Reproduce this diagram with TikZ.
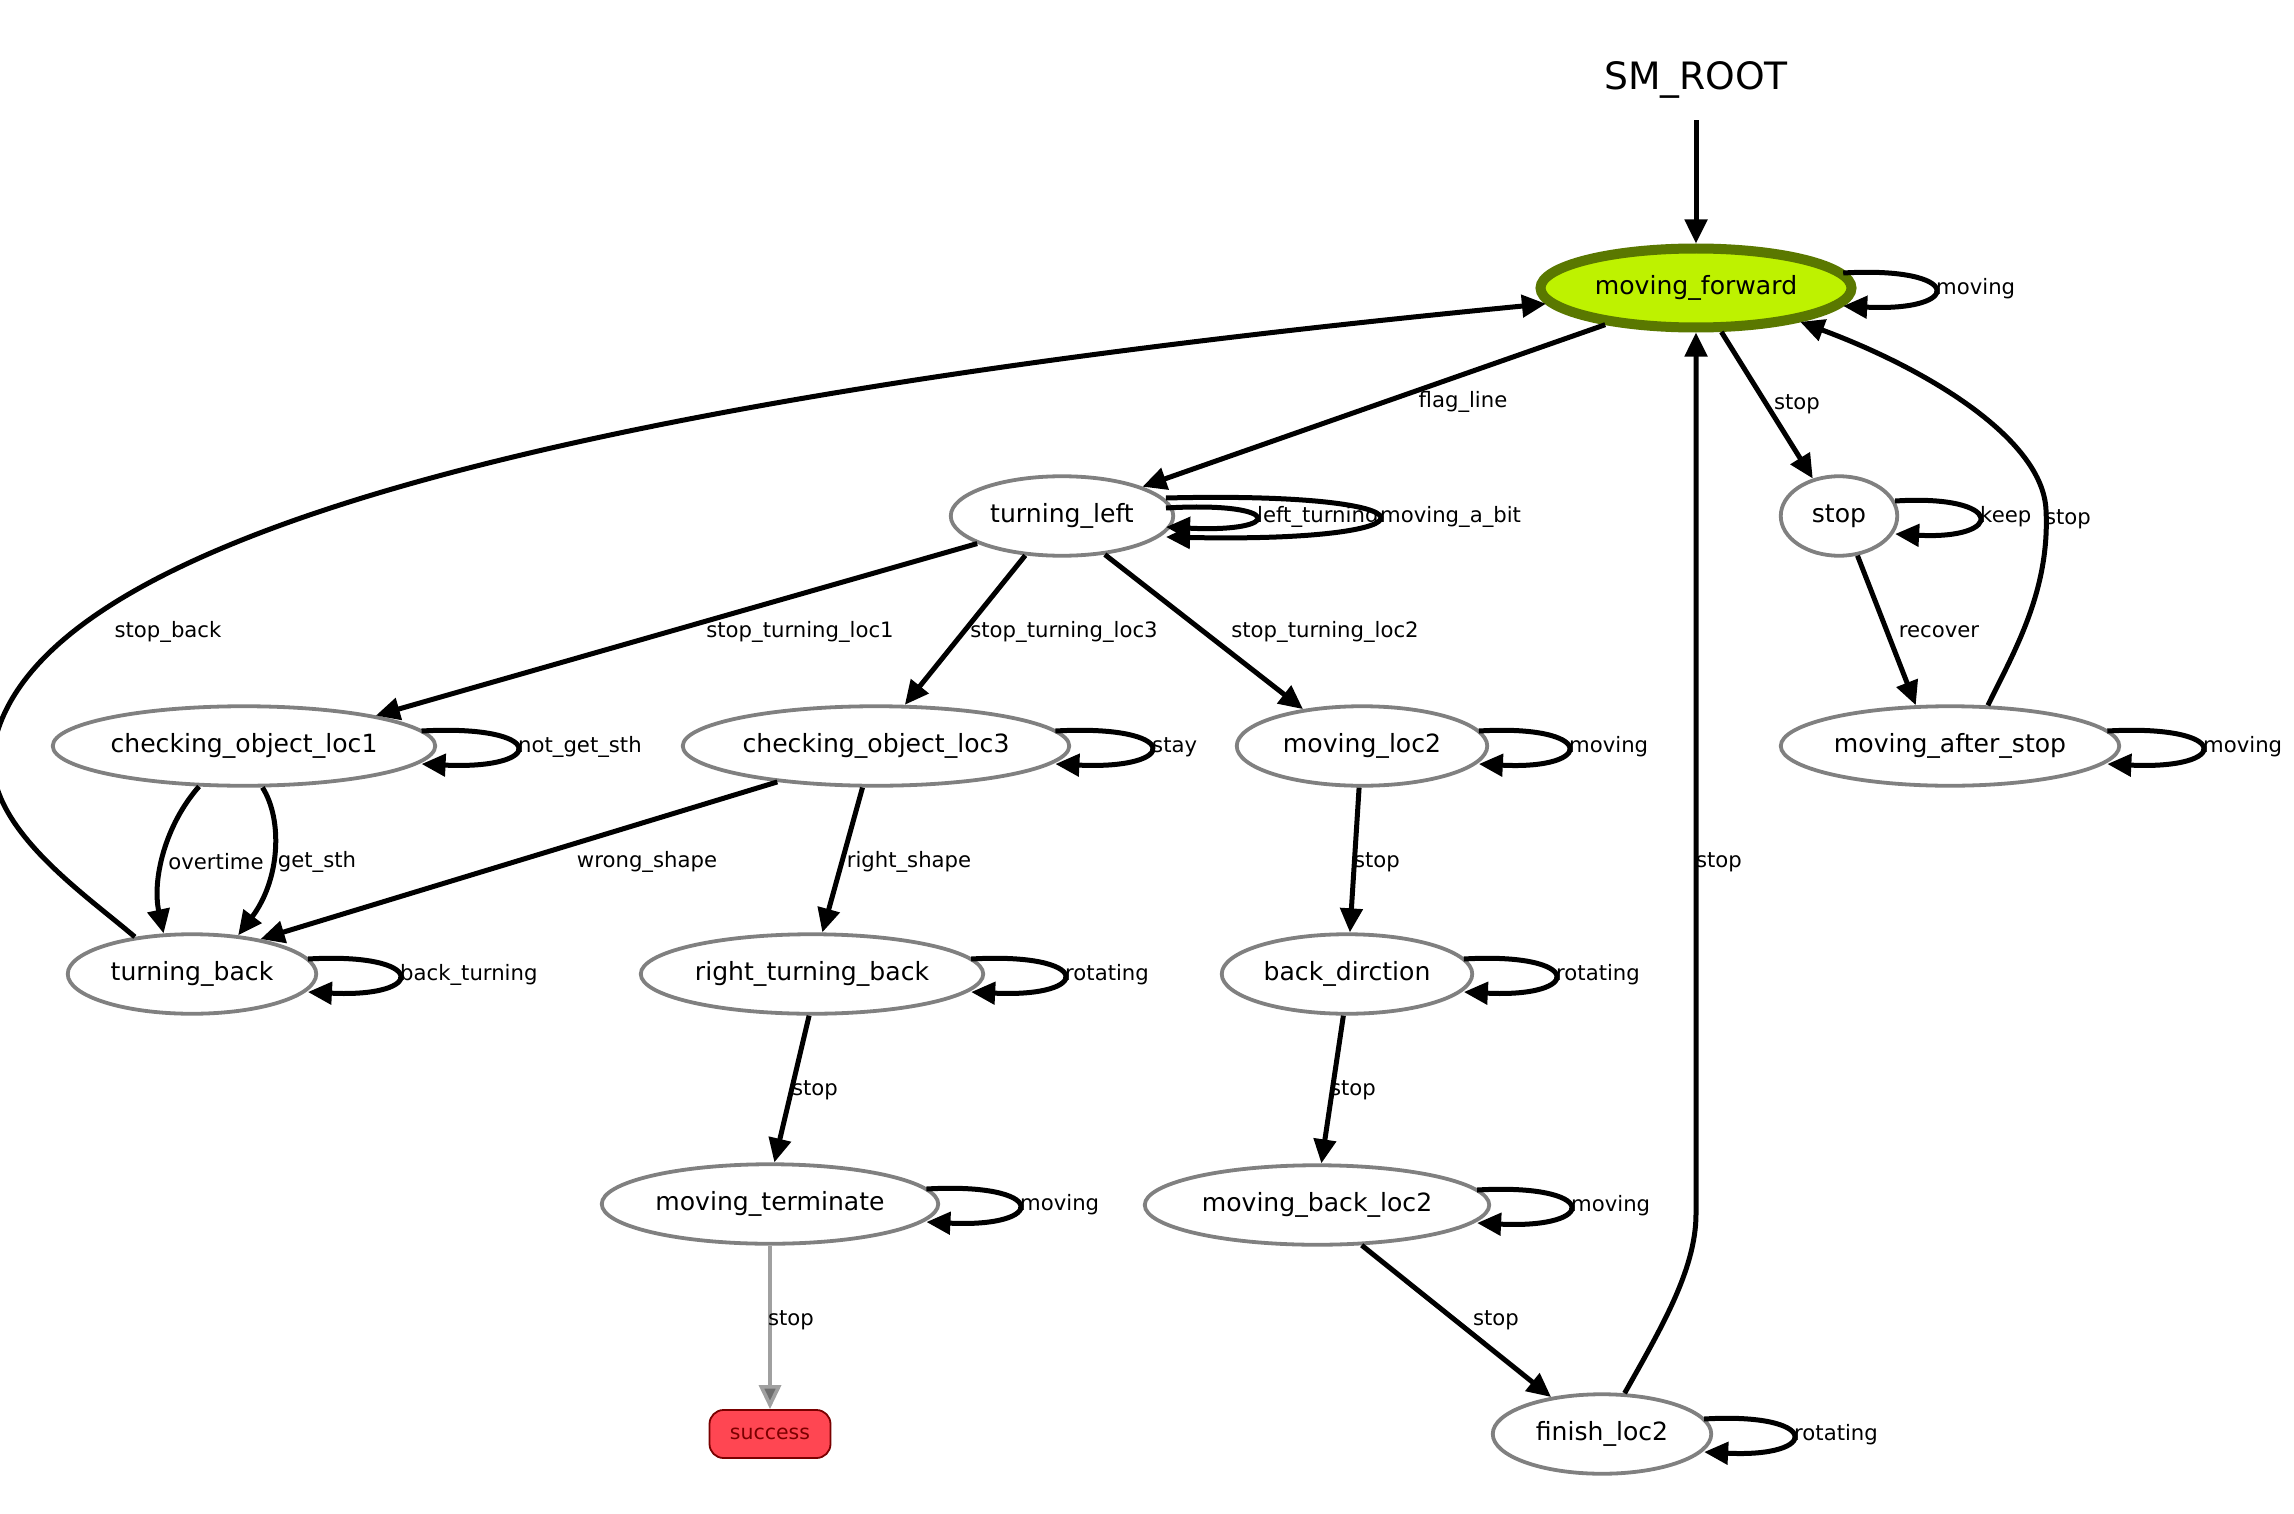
\documentclass[tikz,border=0pt]{standalone}
\usepackage{fontspec}
\setmainfont{DejaVu Sans}
\usetikzlibrary{arrows.meta,shapes.geometric,calc}
\definecolor{mfFill}{HTML}{BEF200}
\definecolor{mfDraw}{HTML}{5A7800}
\definecolor{stGray}{HTML}{808080}
\definecolor{sucFill}{HTML}{FF4652}
\definecolor{sucDraw}{HTML}{7A0000}
\definecolor{grayEdge}{HTML}{A0A0A0}
\definecolor{grayTip}{HTML}{6E6E6E}
\newcommand\nodefont{\fontsize{25.1}{29}\selectfont}
\newcommand\labfont{\fontsize{21.2}{25}\selectfont}
\newcommand\rootfont{\fontsize{37.7}{42}\selectfont}
\tikzset{
 state/.style={ellipse, draw=stGray, line width=3.8pt, fill=white, inner sep=0pt, minimum height=79.5pt, font=\nodefont},
 conn/.style={line width=5pt, -{Triangle[length=24pt,width=22pt]}},
 elab/.style={font=\labfont, inner sep=0pt},
}
% #1 node, #2 outer rx, #3 extent beyond edge, #4 vertical offset, #5 label
\newcommand\sloop[5]{%
 \draw[conn] ($(#1.center)+({0.92*#2},{-#4})$)
   .. controls ($(#1.center)+({(#2+#3-0.23*#2)/0.75},{-#4-7})$)
   and ($(#1.center)+({(#2+#3-0.23*#2)/0.75},{#4+9})$)
   .. ($(#1.center)+({0.92*#2},{#4+3})$);
 \node[elab,anchor=west] at ($(#1.center)+({#2+#3+2},1)$) {#5};}
\begin{document}
\begin{tikzpicture}[x=1pt,y=-1pt]
\useasboundingbox (0,0) rectangle (2294,1514);
% nodes
\node[font=\rootfont, inner sep=0pt, minimum height=80pt] (root) at (1696,80) {SM\_ROOT};
\node[state, draw=mfDraw, fill=mfFill, line width=10pt, minimum width=311pt, minimum height=79pt] (mf) at (1696,288) {moving\_forward};
\node[state, minimum width=222.5pt] (tl) at (1062,516) {turning\_left};
\node[state, minimum width=116.5pt] (st) at (1839,516) {stop};
\node[state, minimum width=382.5pt] (c1) at (244,746) {checking\_object\_loc1};
\node[state, minimum width=386.5pt] (c3) at (876,746) {checking\_object\_loc3};
\node[state, minimum width=250.5pt] (ml2) at (1362,746) {moving\_loc2};
\node[state, minimum width=338.5pt] (mas) at (1950,746) {moving\_after\_stop};
\node[state, minimum width=248.5pt] (tb) at (192,974) {turning\_back};
\node[state, minimum width=342.5pt] (rtb) at (812,974) {right\_turning\_back};
\node[state, minimum width=250.5pt] (bd) at (1347,974) {back\_dirction};
\node[state, minimum width=336.5pt] (mt) at (770,1204) {moving\_terminate};
\node[state, minimum width=344.5pt] (mbl2) at (1317,1205) {moving\_back\_loc2};
\node[state, minimum width=218.5pt] (fl) at (1602,1434) {finish\_loc2};
\node[draw=sucDraw, fill=sucFill, text=sucDraw, rounded corners=14pt, line width=1.8pt, minimum width=121pt, minimum height=48pt, inner sep=0pt, font=\fontsize{20.5}{24}\selectfont] (succ) at (770,1434) {success};
% edges
\draw[conn] (root.south) -- (mf.north);
\sloop{mf}{160}{78}{15}{moving}
\draw[conn] (mf.202) -- (tl.20);
\node[elab] (l1) at (1463,402) {flag\_line};
\draw[conn] (mf.300) -- (st.125);
\node[elab] (l2) at (1797,404) {stop};
\sloop{st}{61}{78}{15}{keep}
\draw[conn] (st.295) -- (mas.130);
\node[elab] (l3) at (1939,632) {recover};
\draw[conn] (mas.47) .. controls (2015,650) and (2050,590) .. (2046,510) .. controls (2043,440) and (1930,370) .. (mf.-18);
\node[elab] (l4) at (2068,519) {stop};
\sloop{tl}{113}{80}{8}{left\_turning}
\sloop{tl}{113}{203}{18}{moving\_a\_bit}
\draw[conn] (tl.198) -- (c1.13);
\node[elab] (l5) at (800,632) {stop\_turning\_loc1};
\draw[conn] (tl.227) -- (c3.55);
\node[elab] (l6) at (1064,632) {stop\_turning\_loc3};
\draw[conn] (tl.318) -- (ml2.148);
\node[elab] (l7) at (1325,632) {stop\_turning\_loc2};
\sloop{c1}{193}{79}{15}{not\_get\_sth}
\draw[conn] (c1.222) .. controls (165,825) and (152,880) .. (tb.125);
\node[elab] (l8) at (216,862) {overtime};
\draw[conn] (c1.294) .. controls (283,820) and (280,880) .. (tb.40);
\node[elab] (l9) at (317,862) {get\_sth};
\sloop{c3}{195}{79}{15}{stay}
\draw[conn] (c3.200) -- (tb.27);
\node[elab] (l10) at (647,862) {wrong\_shape};
\draw[conn] (c3.252) -- (rtb.76);
\node[elab] (l11) at (909,862) {right\_shape};
\sloop{ml2}{127}{78}{15}{moving}
\draw[conn] (ml2.266) -- (bd.86);
\node[elab] (l12) at (1377,862) {stop};
\sloop{mas}{171}{80}{15}{moving}
\sloop{tb}{126}{80}{15}{back\_turning}
\draw[conn] (tb.147) .. controls (80,890) and (-25,820) .. (-5,740) .. controls (40,560) and (450,410) .. (mf.186);
\node[elab] (l13) at (168,632) {stop\_back};
\sloop{rtb}{173}{78}{15}{rotating}
\draw[conn] (rtb.266) -- (mt.84);
\node[elab] (l14) at (815,1090) {stop};
\sloop{bd}{127}{80}{15}{rotating}
\draw[conn] (bd.265) -- (mbl2.84);
\node[elab] (l15) at (1353,1090) {stop};
\sloop{mt}{170}{78}{15}{moving}
\draw[line width=3.6pt, draw=grayEdge, -{Triangle[length=24pt,width=22pt,fill=grayTip]}] (mt.south) -- (succ.north);
\node[elab] (l16) at (791,1320) {stop};
\sloop{mbl2}{174}{78}{15}{moving}
\draw[conn] (mbl2.-42) -- (fl.144);
\node[elab] (l17) at (1496,1320) {stop};
\sloop{fl}{111}{79}{15}{rotating}
\draw[conn] (fl.61) .. controls (1660,1330) and (1696,1270) .. (1696,1214) -- (mf.south);
\node[elab] (l18) at (1719,862) {stop};
\end{tikzpicture}
\end{document}
